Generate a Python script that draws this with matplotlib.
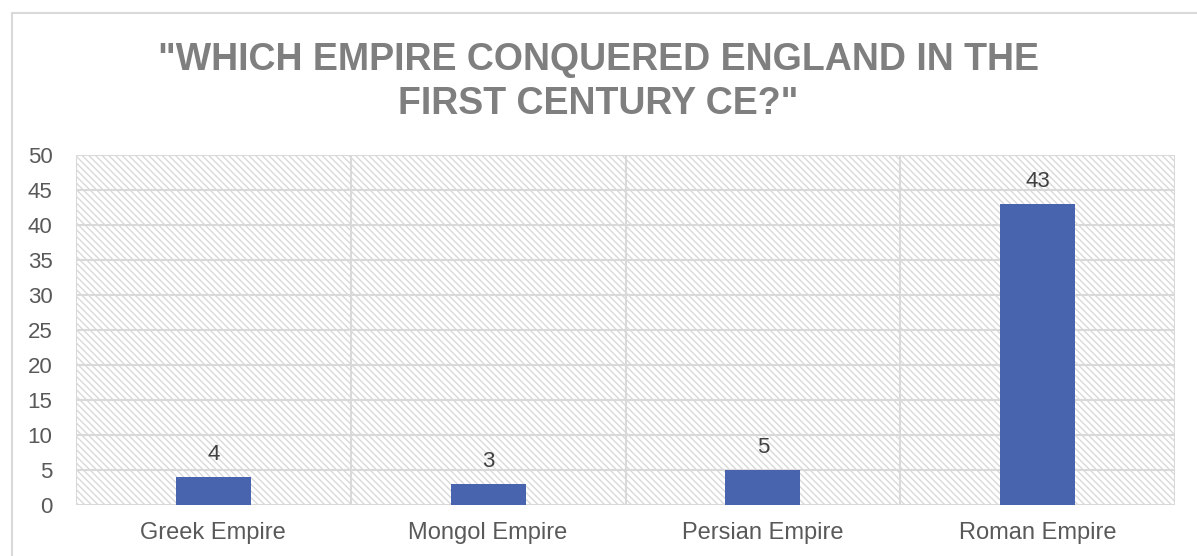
import matplotlib
matplotlib.use('Agg')
import matplotlib.pyplot as plt
from matplotlib.patches import Rectangle

plt.rcParams['font.family'] = ['Liberation Sans', 'DejaVu Sans']
plt.rcParams['hatch.color'] = '#dcdcdc'
plt.rcParams['hatch.linewidth'] = 1.0

empires = ['Greek Empire', 'Mongol Empire', 'Persian Empire', 'Roman Empire']
answers = [4, 3, 5, 43]
yticks = [0, 5, 10, 15, 20, 25, 30, 35, 40, 45, 50]

grid_col = '#d9d9d9'
text_col = '#595959'

fig = plt.figure(figsize=(11.97, 5.56), dpi=100)
# outer chart frame
fig.patches.append(Rectangle((12 / 1197, -0.1), 1.2, 1 - 13 / 556 + 0.1,
                             transform=fig.transFigure, fill=False,
                             edgecolor=grid_col, linewidth=1.5))

ax = fig.add_axes([76 / 1197, 1 - 505 / 556, 1099 / 1197, 350 / 556])
ax.set_xlim(-0.5, len(empires) - 0.5)
ax.set_ylim(0, 50)

# patterned plot area background
ax.add_patch(Rectangle((-0.5, 0), len(empires), 50, facecolor='white',
                       hatch='\\' * 5, edgecolor=grid_col, linewidth=0, zorder=0))

for y in yticks:
    ax.axhline(y, color=grid_col, linewidth=1.5, zorder=1)
for x in range(len(empires) + 1):
    ax.axvline(x - 0.5, color=grid_col, linewidth=1.5, zorder=1)

bars = ax.bar(range(len(empires)), answers, width=0.273, color='#4864ae', zorder=2)
for i, v in enumerate(answers):
    ax.text(i, v + 1.75, str(v), ha='center', va='bottom', fontsize=16,
            color='#404040')

ax.set_xticks(range(len(empires)))
ax.set_xticklabels(empires, fontsize=17, color=text_col)
ax.set_yticks(yticks)
ax.set_yticklabels([str(t) for t in yticks], fontsize=16, color=text_col)
ax.tick_params(length=0)
ax.tick_params(axis='y', pad=17)
ax.tick_params(axis='x', pad=12)
for s in ax.spines.values():
    s.set_visible(False)

fig.text(0.5, 1 - 82 / 556, '"WHICH EMPIRE CONQUERED ENGLAND IN THE\nFIRST CENTURY CE?"',
         ha='center', va='center', fontsize=27, fontweight='bold',
         color='#7f7f7f', linespacing=1.3)

fig.savefig('out.png', dpi=100)
